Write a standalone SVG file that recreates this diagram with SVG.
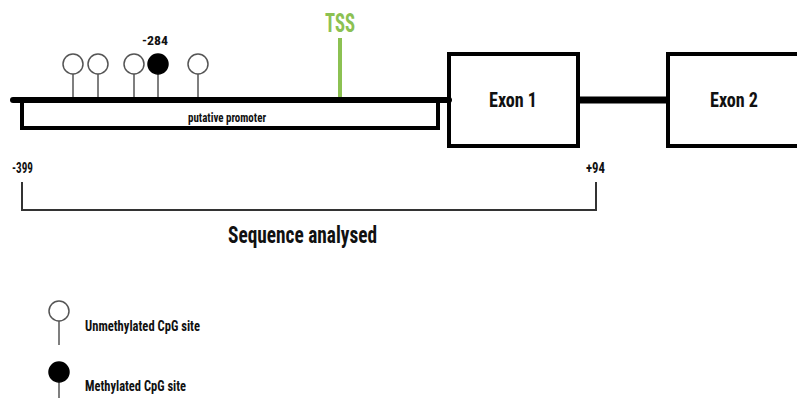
<svg xmlns="http://www.w3.org/2000/svg" width="797" height="398" viewBox="0 0 797 398">
<style>
.t{font-family:"Roboto Condensed","Liberation Sans Narrow","Liberation Sans",sans-serif;font-weight:bold;fill:#111;}
.g{fill:#8cc152;}
.stem{stroke:#555;stroke-width:1.5;}
.open{fill:#fff;stroke:#555;stroke-width:1.5;}
.filled{fill:#000;stroke:#000;stroke-width:1.5;}
.thick{stroke:#000;fill:none;}
</style>
<rect width="797" height="398" fill="#fff"/>
<g id="connectors">
<line x1="13" y1="100" x2="449" y2="100" stroke="#000" stroke-width="6" stroke-linecap="round"/>
<line x1="578" y1="100" x2="668" y2="100" stroke="#000" stroke-width="7"/>
<polyline points="22,102 22,128 438,128 438,102" class="thick" stroke-width="4"/>
<line x1="340" y1="38" x2="340" y2="97" stroke="#8cc152" stroke-width="4"/>
<polyline points="22,182 22,210 596,210 596,182" fill="none" stroke="#333" stroke-width="2"/>
</g>
<g id="promoter"><text class="t" x="188" y="122" font-size="12" textLength="78" lengthAdjust="spacingAndGlyphs">putative promoter</text></g>
<g id="tss"><text class="t g" x="325" y="32" font-size="26" textLength="30" lengthAdjust="spacingAndGlyphs">TSS</text></g>
<g id="cpg1"><line class="stem" x1="73" y1="74" x2="73" y2="97"/><circle class="open" cx="73" cy="64" r="10"/></g>
<g id="cpg2"><line class="stem" x1="98" y1="74" x2="98" y2="97"/><circle class="open" cx="98" cy="64" r="10"/></g>
<g id="cpg3"><line class="stem" x1="134" y1="74" x2="134" y2="97"/><circle class="open" cx="134" cy="64" r="10"/></g>
<g id="cpg4"><line class="stem" x1="158" y1="74" x2="158" y2="97"/><circle class="filled" cx="158" cy="64" r="10"/><text class="t" x="142" y="45" font-size="13" textLength="26" lengthAdjust="spacingAndGlyphs">-284</text></g>
<g id="cpg5"><line class="stem" x1="198" y1="74" x2="198" y2="97"/><circle class="open" cx="198" cy="64" r="10"/></g>
<g id="exon1"><rect x="449" y="54" width="129" height="92" class="thick" stroke-width="4"/><text class="t" x="489" y="107" font-size="20" textLength="48" lengthAdjust="spacingAndGlyphs">Exon 1</text></g>
<g id="exon2"><rect x="668" y="54" width="140" height="92" class="thick" stroke-width="4"/><text class="t" x="710" y="107" font-size="20" textLength="48" lengthAdjust="spacingAndGlyphs">Exon 2</text></g>
<g id="labels">
<text class="t" x="12" y="173" font-size="14" textLength="21" lengthAdjust="spacingAndGlyphs">-399</text>
<text class="t" x="586" y="173" font-size="14" textLength="19" lengthAdjust="spacingAndGlyphs">+94</text>
<text class="t" x="228" y="243" font-size="23" textLength="149" lengthAdjust="spacingAndGlyphs">Sequence analysed</text>
</g>
<g id="legend-unmethylated"><line class="stem" x1="59" y1="321" x2="59" y2="345"/><circle class="open" cx="59" cy="311" r="10"/><text class="t" x="85" y="331" font-size="15" textLength="115" lengthAdjust="spacingAndGlyphs">Unmethylated CpG site</text></g>
<g id="legend-methylated"><line class="stem" x1="59" y1="382" x2="59" y2="398"/><circle class="filled" cx="59" cy="372" r="10"/><text class="t" x="85" y="391" font-size="15" textLength="101" lengthAdjust="spacingAndGlyphs">Methylated CpG site</text></g>
</svg>
